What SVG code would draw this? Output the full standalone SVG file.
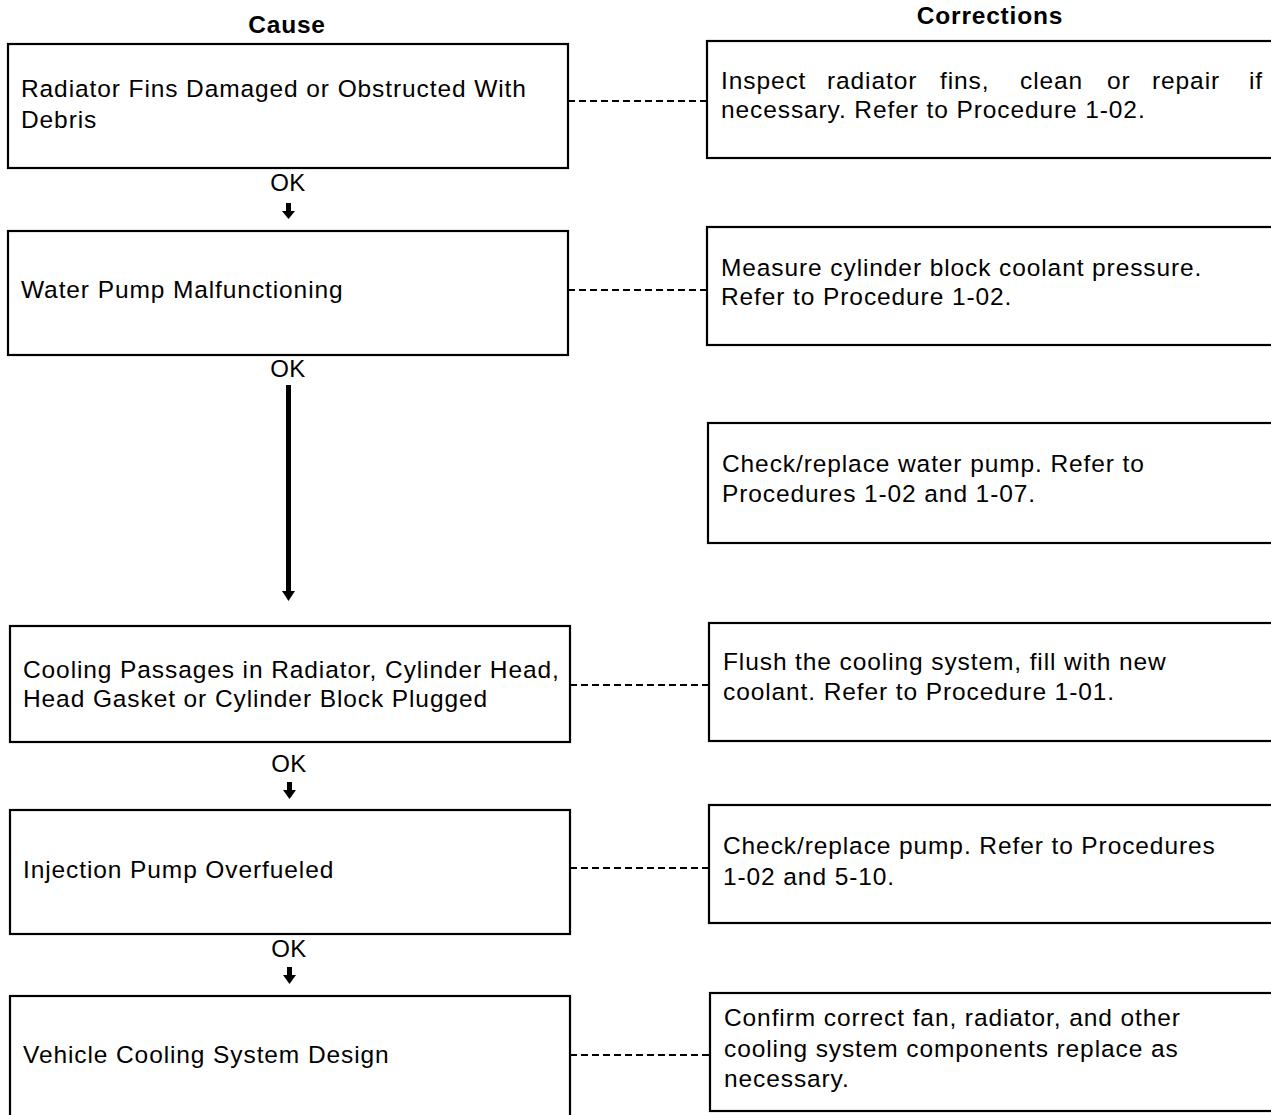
<svg xmlns="http://www.w3.org/2000/svg" width="1271" height="1115" viewBox="0 0 1271 1115">
<style>
.box{fill:#fff;stroke:#000;stroke-width:2.2}
.t{font-family:"Liberation Sans",Arial,sans-serif;font-size:24.5px;letter-spacing:0.9px;fill:#000}
.h{font-family:"Liberation Sans",Arial,sans-serif;font-size:24.5px;letter-spacing:0.8px;font-weight:bold;fill:#000}
.dash{stroke:#000;stroke-width:2;stroke-dasharray:7,4;fill:none}
.ok{font-family:"Liberation Sans",Arial,sans-serif;font-size:24px;letter-spacing:0.5px;fill:#000;text-anchor:middle}
</style>
<rect width="1271" height="1115" fill="#fff"/>
<text class="h" x="287" y="33" text-anchor="middle">Cause</text>
<text class="h" x="990" y="24" text-anchor="middle">Corrections</text>

<g id="cause1"><rect class="box" x="8" y="44" width="560" height="124"/>
<text class="t" x="21" y="97">Radiator Fins Damaged or Obstructed With</text>
<text class="t" x="21" y="128">Debris</text></g>
<g id="cause2"><rect class="box" x="8" y="231" width="560" height="124"/>
<text class="t" x="21" y="298">Water Pump Malfunctioning</text></g>
<g id="cause3"><rect class="box" x="10" y="626" width="560" height="116"/>
<text class="t" x="23" y="678">Cooling Passages in Radiator, Cylinder Head,</text>
<text class="t" x="23" y="707">Head Gasket or Cylinder Block Plugged</text></g>
<g id="cause4"><rect class="box" x="10" y="810" width="560" height="124"/>
<text class="t" x="23" y="878">Injection Pump Overfueled</text></g>
<g id="cause5"><rect class="box" x="10" y="996" width="560" height="130"/>
<text class="t" x="23" y="1063">Vehicle Cooling System Design</text></g>

<g id="corr1"><rect class="box" x="707" y="41" width="580" height="117"/>
<text class="t" y="89"><tspan x="721">Inspect</tspan><tspan x="827">radiator</tspan><tspan x="940">fins,</tspan><tspan x="1020">clean</tspan><tspan x="1107">or</tspan><tspan x="1152">repair</tspan><tspan x="1249">if</tspan></text>
<text class="t" x="721" y="118">necessary. Refer to Procedure 1-02.</text></g>
<g id="corr2"><rect class="box" x="707" y="227" width="580" height="118"/>
<text class="t" x="721" y="276">Measure cylinder block coolant pressure.</text>
<text class="t" x="721" y="305">Refer to Procedure 1-02.</text></g>
<g id="corr3"><rect class="box" x="708" y="423" width="580" height="120"/>
<text class="t" x="722" y="472">Check/replace water pump. Refer to</text>
<text class="t" x="722" y="502">Procedures 1-02 and 1-07.</text></g>
<g id="corr4"><rect class="box" x="709" y="623" width="580" height="118"/>
<text class="t" x="723" y="670">Flush the cooling system, fill with new</text>
<text class="t" x="723" y="700">coolant. Refer to Procedure 1-01.</text></g>
<g id="corr5"><rect class="box" x="709" y="805" width="580" height="118"/>
<text class="t" x="723" y="854">Check/replace pump. Refer to Procedures</text>
<text class="t" x="723" y="885">1-02 and 5-10.</text></g>
<g id="corr6"><rect class="box" x="710" y="993" width="580" height="118"/>
<text class="t" x="724" y="1026">Confirm correct fan, radiator, and other</text>
<text class="t" x="724" y="1057">cooling system components replace as</text>
<text class="t" x="724" y="1087">necessary.</text></g>

<g id="connectors">
<line class="dash" x1="568" y1="101" x2="707" y2="101"/>
<line class="dash" x1="568" y1="290" x2="707" y2="290"/>
<line class="dash" x1="570" y1="685" x2="709" y2="685"/>
<line class="dash" x1="570" y1="868" x2="709" y2="868"/>
<line class="dash" x1="570" y1="1055" x2="710" y2="1055"/>
<text class="ok" x="288" y="191">OK</text>
<rect x="286" y="203" width="5" height="9" fill="#000"/>
<polygon points="282,211 295,211 288.5,219" fill="#000"/>
<text class="ok" x="288" y="377">OK</text>
<rect x="286" y="385" width="5" height="207" fill="#000"/>
<polygon points="282,591 295,591 288.5,601" fill="#000"/>
<text class="ok" x="289" y="772">OK</text>
<rect x="287" y="782" width="5" height="9" fill="#000"/>
<polygon points="283,790 296,790 289.5,799" fill="#000"/>
<text class="ok" x="289" y="957">OK</text>
<rect x="287" y="967" width="5" height="9" fill="#000"/>
<polygon points="283,975 296,975 289.5,984" fill="#000"/>
</g>
</svg>
